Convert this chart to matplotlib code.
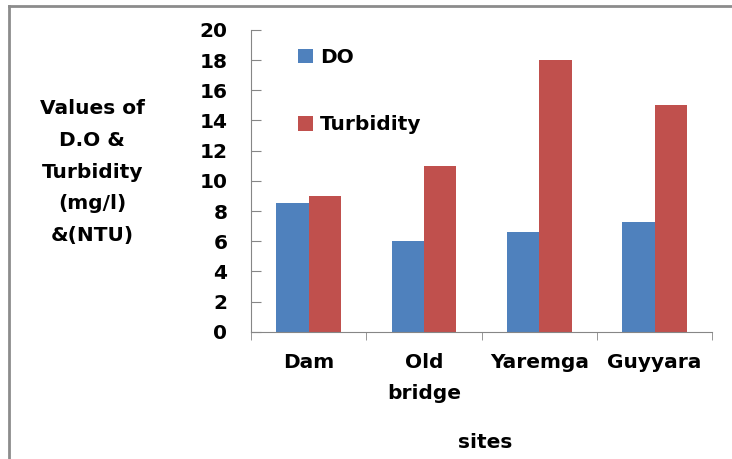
import matplotlib
matplotlib.use("Agg")
import matplotlib.pyplot as plt
import numpy as np
from matplotlib.lines import Line2D

sites = ["Dam", "Old\nbridge", "Yaremga", "Guyyara"]
do_values = [8.5, 6.0, 6.6, 7.25]
turbidity_values = [9.0, 11.0, 18.0, 15.0]
y_ticks = [0, 2, 4, 6, 8, 10, 12, 14, 16, 18, 20]

plt.rcParams["font.family"] = ["DejaVu Sans"]
plt.rcParams["font.weight"] = "bold"
FS = 14.5

fig = plt.figure(figsize=(7.32, 4.59), dpi=100)
ax = fig.add_axes([0.343, 0.277, 0.630, 0.658])

x = np.arange(len(sites))
width = 0.28
ax.bar(x - width / 2, do_values, width, color="#4F81BD", label="DO")
ax.bar(x + width / 2, turbidity_values, width, color="#C0504D", label="Turbidity")

ax.set_xlim(-0.5, len(sites) - 0.5)
ax.set_ylim(0, 20)
ax.set_yticks(y_ticks)
ax.set_xticks(x)
ax.set_xticklabels(sites, fontsize=FS, fontweight="bold", linespacing=1.8)
ax.set_xticks(np.arange(-0.5, len(sites)), minor=True)
ax.tick_params(axis="x", which="major", length=0, pad=15)
ax.tick_params(axis="x", which="minor", length=6, color="#868686")
ax.tick_params(axis="y", direction="in", length=7.5, color="#868686",
               labelsize=FS, pad=17)
for lbl in ax.get_yticklabels():
    lbl.set_fontweight("bold")

for side in ("top", "right"):
    ax.spines[side].set_visible(False)
for side in ("left", "bottom"):
    ax.spines[side].set_color("#868686")

fig.text(0.126, 0.625, "Values of\nD.O &\nTurbidity\n(mg/l)\n&(NTU)",
         ha="center", va="center", fontsize=FS, fontweight="bold",
         linespacing=1.85)
fig.text(0.663, 0.035, "sites", ha="center", va="center",
         fontsize=FS, fontweight="bold")

ax.legend(loc="upper left", bbox_to_anchor=(0.102, 0.94), frameon=False,
          borderpad=0, borderaxespad=0, labelspacing=2.4,
          handlelength=0.73, handleheight=0.73, handletextpad=0.35,
          prop={"weight": "bold", "size": FS})

# outer frame (left and top only)
fig.add_artist(Line2D([0.012, 0.012], [0.0, 0.987], transform=fig.transFigure,
                      color="#8c8c8c", lw=2))
fig.add_artist(Line2D([0.012, 1.0], [0.987, 0.987], transform=fig.transFigure,
                      color="#8c8c8c", lw=2))

fig.savefig("out.png", dpi=100)
